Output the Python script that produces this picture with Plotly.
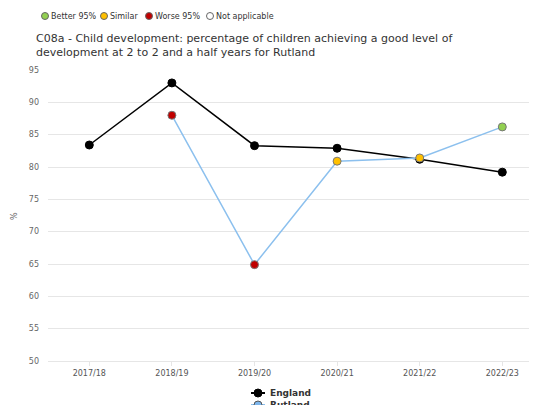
import plotly.graph_objects as go

years = ["2017/18", "2018/19", "2019/20", "2020/21", "2021/22", "2022/23"]
england = [83.4, 93.0, 83.3, 82.9, 81.2, 79.2]
rutland = [None, 88.0, 64.9, 80.9, 81.4, 86.2]
rutland_sig = [None, "Worse", "Worse", "Similar", "Similar", "Better"]
sig_colors = {"Better": "#92d050", "Similar": "#ffc000", "Worse": "#c00000", "Not applicable": "#ffffff"}
key_labels = ["Better 95%", "Similar", "Worse 95%", "Not applicable"]
key_names = ["Better", "Similar", "Worse", "Not applicable"]
series_names = ["England", "Rutland"]
yticks = [50, 55, 60, 65, 70, 75, 80, 85, 90, 95]

FONT = "DejaVu Sans"
OFF = 8                      # page body margin
W, H = 537 - OFF, 405 - OFF  # figure (div) size
L, R, T, B = 48 - OFF, 0, 70 - OFF, 44
PW, PH = W - L - R, H - T - B
ENG_C = "#000000"
RUT_LINE = "#8cc0ee"
RUT_MARK = "#7cb5ec"


def px(x):
    # page x -> paper fraction
    return (x - OFF - L) / PW


def py(y):
    # page y -> paper fraction
    return (H - B - (y - OFF)) / PH


fig = go.Figure()
fig.add_trace(go.Scatter(
    x=years, y=england, name="England", mode="lines+markers",
    line=dict(color=ENG_C, width=1.5),
    marker=dict(color=ENG_C, size=8, line=dict(color=ENG_C, width=1)),
))
fig.add_trace(go.Scatter(
    x=years, y=rutland, name="Rutland", mode="lines",
    line=dict(color=RUT_LINE, width=1.5), connectgaps=False,
))
fig.add_trace(go.Scatter(
    x=years, y=rutland, name="Rutland", mode="markers",
    marker=dict(color=[sig_colors[s] if s else "#ffffff" for s in rutland_sig],
                size=8, line=dict(color="#777777", width=1)),
))

shapes = []
annotations = []


def circle(cx, cy, r, fill, lc, lw=1):
    return dict(type="circle", xref="paper", yref="paper",
                xsizemode="pixel", ysizemode="pixel",
                xanchor=px(cx), yanchor=py(cy),
                x0=-r, x1=r, y0=-r, y1=r,
                fillcolor=fill, line=dict(color=lc, width=lw))


# significance key at top
key_x = [45, 104, 149, 210]
for kx, name, lab in zip(key_x, key_names, key_labels):
    shapes.append(circle(kx, 16, 3.5, sig_colors[name], "#666666"))
    annotations.append(dict(xref="paper", yref="paper", x=px(kx + 4), y=py(16),
                            xanchor="left", yanchor="middle", showarrow=False,
                            text=lab, font=dict(family=FONT, size=8, color="#333333")))

# series legend at bottom
leg_y = [393, 405]
leg_line = [ENG_C, RUT_LINE]
leg_fill = [ENG_C, RUT_MARK]
leg_edge = [ENG_C, "#555555"]
for name, ly, lc, fc, ec in zip(series_names, leg_y, leg_line, leg_fill, leg_edge):
    shapes.append(dict(type="line", xref="paper", yref="paper",
                       x0=px(251), x1=px(265), y0=py(ly), y1=py(ly),
                       line=dict(color=lc, width=2)))
    shapes.append(circle(258, ly, 4, fc, ec))
    annotations.append(dict(xref="paper", yref="paper", x=px(268), y=py(ly),
                            xanchor="left", yanchor="middle", showarrow=False,
                            text="<b>" + name + "</b>",
                            font=dict(family=FONT, size=9, color="#333333")))

annotations.append(dict(xref="paper", yref="paper", x=px(14), y=py(216),
                        xanchor="center", yanchor="middle", showarrow=False,
                        text="%", textangle=-90, font=dict(family=FONT, size=8, color="#666666")))

fig.update_layout(
    width=W, height=H,
    margin=dict(l=L, r=R, t=T, b=B),
    paper_bgcolor="white", plot_bgcolor="white",
    font=dict(family=FONT, color="#333333"),
    showlegend=False,
    title=dict(text="C08a - Child development: percentage of children achieving a good level of<br>development at 2 to 2 and a half years for Rutland",
               xref="container", yref="container", x=(36 - OFF) / W, xanchor="left",
               y=1 - 33.5 / H, yanchor="top",
               font=dict(family=FONT, size=11, color="#333333")),
    xaxis=dict(type="category", range=[-0.5, 5.42], showgrid=False, automargin=False,
               tickfont=dict(family=FONT, size=8, color="#555555"),
               showline=True, linecolor="#e6e6e6", ticks="outside", ticklen=4, tickcolor="#e6e6e6"),
    yaxis=dict(range=[50, 95], tickvals=yticks, showgrid=True, gridcolor="#e6e6e6", automargin=False,
               zeroline=False, tickfont=dict(family=FONT, size=8, color="#666666"),
               ticks="", ticklabelstandoff=8),
    shapes=shapes, annotations=annotations,
)

fig.write_html("out.html")
